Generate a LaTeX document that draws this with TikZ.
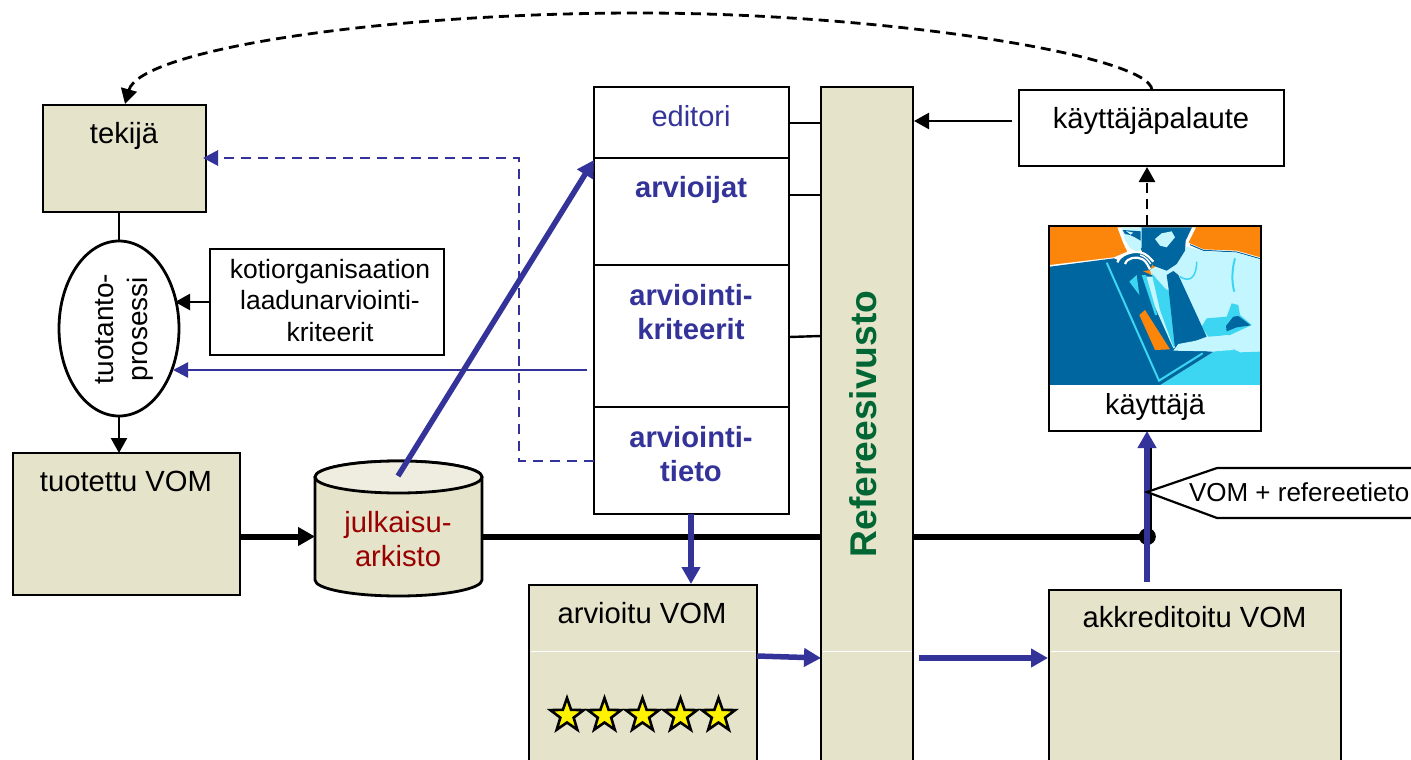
\documentclass[tikz,border=0pt]{standalone}
\usepackage{fontspec}
\setmainfont{Liberation Sans}
\usetikzlibrary{arrows.meta,shapes.geometric}
\definecolor{beige}{HTML}{E5E3CA}
\definecolor{beigelt}{HTML}{EEEDDF}
\definecolor{vblue}{HTML}{333399}
\definecolor{vred}{HTML}{990000}
\definecolor{vgreen}{HTML}{006633}
\definecolor{porange}{HTML}{FC860B}
\definecolor{pdark}{HTML}{00669F}
\definecolor{pcyan}{HTML}{3DD6F2}
\definecolor{plight}{HTML}{C4F6FF}
\newcommand{\fsz}[1]{\fontsize{#1}{#1}\selectfont}
\tikzset{
  box/.style={draw=black,line width=2.8pt,anchor=north west,inner sep=0pt,outer sep=0pt},
  beigebox/.style={box,fill=beige},
  whitebox/.style={box,fill=white},
  txt/.style={inner sep=0pt,outer sep=0pt,align=center,text=black,font=\fsz{29.2}},
  small/.style={txt,font=\fsz{26.5},text depth=0pt},
  bluetxt/.style={txt,text=vblue,font=\fsz{29.2}\bfseries},
  blk/.style={draw=black,line width=2.4pt},
  tipblk/.style={-{Triangle[length=15pt,width=16pt]}},
  thick blue/.style={draw=vblue,line width=5.5pt,-{Triangle[length=17pt,width=18pt]}},
  thin blue/.style={draw=vblue,line width=2.4pt,-{Triangle[length=15pt,width=15pt]}},
  dashblue/.style={draw=vblue,line width=2.8pt,dash pattern=on 10pt off 7pt,-{Triangle[length=15pt,width=15pt]}},
  dashblk/.style={draw=black,line width=2.8pt,dash pattern=on 10pt off 6pt,-{Triangle[length=15pt,width=16pt]}},
  mainline/.style={draw=black,line width=6pt},
  ystar/.style={star,star points=5,star point ratio=2.5,draw=black,line width=2.6pt,fill=yellow,minimum size=35pt,inner sep=0pt},
  sep/.style={draw=white,line width=1pt},
}
\begin{document}
\begin{tikzpicture}[x=1pt,y=-1pt]
\useasboundingbox (0,0) rectangle (1411,760);
\begin{scope}
\clip (0,0) rectangle (1411,760);
% ---- boxes
\node[beigebox,minimum width=163pt,minimum height=107pt] (tekija) at (43,105) {};
\node[txt,anchor=center] (tekijaT) at (124,136) {tekijä};
\node[draw=black,line width=2.8pt,fill=white,ellipse,minimum width=120pt,minimum height=175pt,inner sep=0pt,outer sep=0pt] (prosessi) at (119,328.5) {};
\node[txt,rotate=90,anchor=center,font=\fsz{28},text depth=0pt] (prosessiT) at (121,329) {tuotanto-\\[6pt]prosessi};
\node[whitebox,minimum width=234pt,minimum height=106pt] (koti) at (210,249) {};
\node[small,anchor=center] (kotiT) at (330,300) {kotiorganisaation\\[5pt]laadunarviointi-\\[5pt]kriteerit};
\node[beigebox,minimum width=227pt,minimum height=142pt] (tuotettu) at (13,453) {};
\node[txt,anchor=center] (tuotettuT) at (126,481) {tuotettu VOM};
% cylinder
\path[draw=black,line width=2.8pt,fill=beige] (315,477) -- (315,580) arc[start angle=180,end angle=360,x radius=83.5pt,y radius=16pt] -- (482,477) arc[start angle=0,end angle=180,x radius=83.5pt,y radius=16pt] -- cycle;
\path[draw=black,line width=2.8pt,fill=beigelt] (398.5,477) ellipse[x radius=83.5pt,y radius=16pt];
\node[minimum width=167pt,minimum height=136pt,inner sep=0pt,outer sep=0pt] (arkisto) at (398.5,529) {};
\node[txt,text=vred,anchor=center] (arkistoT) at (398,539) {julkaisu-\\[5pt]arkisto};
% review column
\node[whitebox,minimum width=195pt,minimum height=71pt] (editori) at (594,87) {};
\node[whitebox,minimum width=195pt,minimum height=107pt] (arvioijat) at (594,158) {};
\node[whitebox,minimum width=195pt,minimum height=142pt] (kriteerit) at (594,265) {};
\node[whitebox,minimum width=195pt,minimum height=107pt] (tieto) at (594,407) {};
\node[txt,text=vblue,anchor=center,font=\fsz{29}] (editoriT) at (691,116) {editori};
\node[bluetxt,anchor=center] (arvioijatT) at (691,190) {arvioijat};
\node[bluetxt,anchor=center] (kriteeritT) at (691,312) {arviointi-\\[5pt]kriteerit};
\node[bluetxt,anchor=center] (tietoT) at (691,454) {arviointi-\\[5pt]tieto};
% Referee site
\node[beigebox,minimum width=92pt,minimum height=700pt] (referee) at (821,87) {};
\draw[sep] (822.5,651) -- (911.5,651);
\node[txt,rotate=90,anchor=center,text=vgreen,font=\fsz{37.2}\bfseries] (refereeT) at (863,424) {Refereesivusto};
% lower boxes
\node[beigebox,minimum width=228pt,minimum height=200pt] (arvioitu) at (529,585) {};
\draw[sep] (530.5,651) -- (755.5,651);
\node[txt,anchor=center] (arvioituT) at (642,613) {arvioitu VOM};
\node[beigebox,minimum width=292pt,minimum height=200pt] (akkreditoitu) at (1049,590) {};
\draw[sep] (1050.5,651) -- (1339.5,651);
\node[txt,anchor=center] (akkreditoituT) at (1194.5,617) {akkreditoitu VOM};
\foreach \n/\x in {a/567,b/604.5,c/642.5,d/680.5,e/718.5}
  \node[ystar] (star\n) at (\x,715.5) {};
% palaute + user
\node[whitebox,minimum width=265pt,minimum height=76pt] (palaute) at (1019,90) {};
\node[txt,anchor=center] (palauteT) at (1151,121) {käyttäjäpalaute};
\node[whitebox,minimum width=212pt,minimum height=205pt] (kayttaja) at (1049,226) {};
\begin{scope}[shift={(1040,220)},x=0.33333pt,y=-0.33333pt]
  \fill[porange] (30,22) rectangle (660,495);
  % white outline of figure
  \fill[white] (232,22) -- (250,70) -- (262,95) -- (222,112) -- (30,135) -- (30,145) -- (660,125) -- (660,112) -- (590,92) -- (490,88) -- (445,68) -- (468,22) -- cycle;
  \draw[pdark,line width=1pt] (450,74) -- (490,91) -- (590,96) -- (660,116);
  % shirt
  \fill[plight] (440,80) -- (490,93) -- (590,98) -- (660,118) -- (660,400) -- (400,400) -- (330,150) -- cycle;
  \fill[pcyan] (360,495) -- (520,395) -- (575,385) -- (600,397) -- (660,395) -- (660,495) -- cycle;
  \fill[pdark] (30,140) -- (222,115) -- (300,150) -- (345,170) -- (440,390) -- (520,395) -- (360,495) -- (30,495) -- cycle;
  % shirt front
  \fill[plight] (345,170) -- (380,205) -- (440,365) -- (400,385) -- (340,250) -- (310,170) -- cycle;
  \fill[pcyan] (335,160) -- (375,205) -- (390,215) -- (440,365) -- (400,380) -- (360,270) -- cycle;
  \fill[pcyan] (305,165) -- (318,165) -- (352,285) -- (345,285) -- cycle;
  \fill[pcyan] (485,320) -- (500,295) -- (560,290) -- (575,250) -- (595,255) -- (600,285) -- (635,315) -- (570,345) -- (505,350) -- cycle;
  \fill[pdark] (558,318) -- (580,290) -- (595,288) -- (632,316) -- (590,322) -- (560,334) -- cycle;
  % tie
  \fill[pdark] (380,165) -- (400,153) -- (415,165) -- (500,350) -- (405,385) -- (385,200) -- cycle;
  \fill[porange] (298,285) -- (315,270) -- (390,388) -- (345,390) -- cycle;
  \fill[plight] (400,392) -- (415,372) -- (560,345) -- (580,390) -- (520,394) -- cycle;
  % book edge
  \draw[pcyan,line width=2pt] (200,128) -- (357,482) -- (488,400);
  % head
  \fill[pdark] (300,22) -- (456,22) -- (437,62) -- (435,92) -- (410,132) -- (380,152) -- (340,137) -- (310,102) -- (300,82) -- cycle;
  \fill[plight] (345,57) -- (365,40) -- (395,34) -- (405,52) -- (380,82) -- (360,77) -- cycle;
  % face
  \fill[plight] (244,22) -- (305,22) -- (305,82) -- (295,97) -- (270,84) -- (255,60) -- cycle;
  \fill[pdark] (248,30) -- (302,34) -- (302,62) -- (285,52) -- (270,45) -- (255,42) -- cycle;
  \fill[plight] (258,33) -- (280,38) -- (272,44) -- cycle;
  % hand
  \fill[pdark] (232,125) -- (258,100) -- (310,98) -- (340,125) -- (330,150) -- (300,155) -- (265,140) -- (240,150) -- cycle;
  \draw[white,line width=2.2pt] (232,127) .. controls (240,105) and (275,92) .. (300,97) .. controls (320,100) and (330,115) .. (340,125);
  \draw[white,line width=2.2pt] (255,132) .. controls (262,112) and (290,108) .. (308,118) .. controls (320,125) and (325,140) .. (330,148);
  \draw[white,line width=1.4pt] (300,105) .. controls (315,108) and (325,120) .. (332,132);
  \fill[pcyan] (268,185) -- (290,165) -- (298,225) -- cycle;
  \draw[pcyan,line width=2pt] (585,115) .. controls (575,150) and (575,190) .. (583,215);
  \draw[pcyan,line width=1.5pt] (470,125) .. controls (470,170) and (450,190) .. (420,170);
  \fill[white] (30,495) rectangle (660,628);
\end{scope}
\node[whitebox,fill=none,minimum width=212pt,minimum height=205pt] (kayttajaF) at (1049,226) {};
\node[txt,anchor=center,font=\fsz{29}] (kayttajaT) at (1155,407) {käyttäjä};
% ---- named free ends
\coordinate (calloutTip) at (1147,492);
\coordinate (e1) at (789,123); \coordinate (r1) at (821,123);
\coordinate (e2) at (789,195); \coordinate (r2) at (821,195);
\coordinate (e3) at (789,337); \coordinate (r3) at (821,336);
\coordinate (palS) at (1012,121); \coordinate (refE) at (914,121);
\coordinate (userTop) at (1147,225); \coordinate (palB) at (1147,167);
\coordinate (palTop) at (1152,90); \coordinate (tekTop) at (125,104);
\coordinate (tietoL) at (594,461); \coordinate (bendA) at (519,461); \coordinate (bendB) at (519,158); \coordinate (tekR) at (203,158);
\coordinate (kritL) at (587,370); \coordinate (prosR) at (173,370);
\coordinate (arkC) at (398,476); \coordinate (arvTL) at (594,160);
\coordinate (kotiL) at (210,302); \coordinate (prosK) at (175,302);
\coordinate (tuoR) at (240,536.5); \coordinate (arkL) at (315,536.5);
\coordinate (arkR) at (482,536.5); \coordinate (refL) at (821,536.5);
\coordinate (refR) at (913,536.5); \coordinate (jn) at (1147.3,536.5);
\coordinate (jnUp) at (1150.5,445); \coordinate (jnLow) at (1150.5,536);
\coordinate (akkT) at (1147,582); \coordinate (userB) at (1147,431);
\coordinate (tietoB) at (691,514); \coordinate (arvT) at (691,584);
\coordinate (arvR) at (757,656); \coordinate (refA) at (821,658);
\coordinate (refB) at (919,658); \coordinate (akkL) at (1048,658);
% ---- connectors
\draw[blk] (e1) -- (r1);
\draw[blk] (e2) -- (r2);
\draw[blk] (e3) -- (r3);
\draw[blk,tipblk] (palS) -- (refE);
\draw[dashblk] (userTop) -- (palB);
\draw[dashblk] (palTop) .. controls (1150,55) and (880,13) .. (640,13) .. controls (380,13) and (140,50) .. (tekTop);
\draw[dashblue] (tietoL) -- (bendA) -- (bendB) -- (tekR);
\draw[thin blue] (kritL) -- (prosR);
\draw[blk] (tekija.south) ++(-5.5,0) -- (prosessi.north);
\draw[blk,tipblk] (kotiL) -- (prosK);
\draw[blk,tipblk] (prosessi.south) -- (tuotettu.north -| prosessi.south);
\draw[mainline,-{Triangle[length=17pt,width=18pt]}] (tuoR) -- (arkL);
\draw[mainline] (arkR) -- (refL);
\draw[mainline] (refR) -- (jn);
\fill[black] (jn) circle[radius=8.5pt];
\draw[draw=black,line width=3.5pt] (jnLow) -- (jnUp);
\draw[thick blue] (akkT) -- (userB);
\draw[thick blue] (arkC) -- (arvTL);
\draw[thick blue] (tietoB) -- (arvT);
\draw[thick blue] (arvR) -- (refA);
\draw[thick blue] (refB) -- (akkL);
% ---- callout
\path[draw=black,line width=2.2pt,fill=white] (calloutTip) -- (1217,468) -- (1440,468) -- (1440,518) -- (1217,518) -- cycle;
\node[txt,anchor=west,font=\fsz{26}] (calloutT) at (1189,492) {VOM + refereetieto};
\end{scope}
\end{tikzpicture}
\end{document}
